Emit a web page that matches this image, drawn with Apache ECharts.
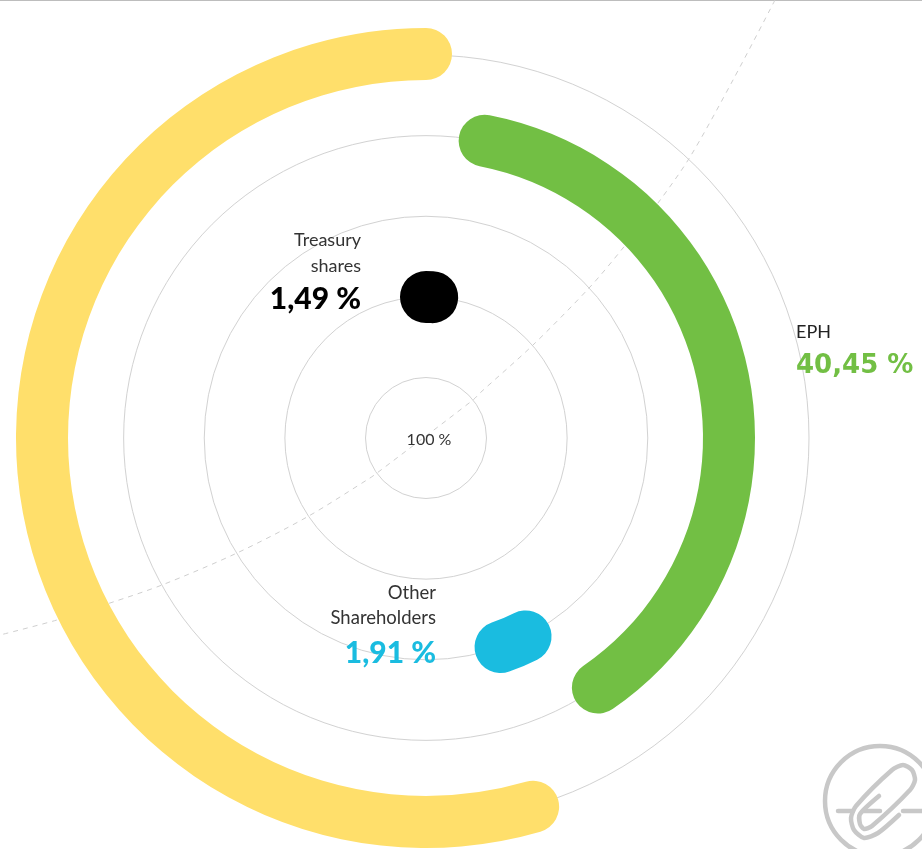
<!doctype html>
<html>
<head>
    <meta charset="utf-8">
    <title>Shareholder structure</title>
    <script src="https://cdn.jsdelivr.net/npm/echarts@6/dist/echarts.min.js"></script>
    <style>
        html, body { margin: 0; padding: 0; background: #fff; }
    </style>
</head>
<body>
    <div id="main" style="width:922px;height:849px;"></div>

    <script type="text/javascript">
        var mainChart = echarts.init(document.getElementById('main'));

        // rings from the inside out, the first one is only the "100 %" circle
        var rings = ['Total', 'Treasury shares', 'Other Shareholders', 'EPH', 'Rest'];
        // where each arc starts and how long it is drawn, in % of the full circle
        var arcStart = [null, 0, 42.6, 3.1, 45.5];
        var arcLength = [null, 0.7, 1.95, 37.3, 54.5];
        var ringColors = ['#000000', '#000000', '#1abce0', '#72bf44', '#ffdf6b'];

        // the dashed curve in page pixels
        var curveX = [775, 733, 690, 658, 623, 590, 533, 480, 473, 377, 370, 307, 237, 162, 110, 57, 0];
        var curveY = [0, 80, 157, 203, 248, 287, 345, 393, 400, 473, 478, 517, 553, 585, 603, 620, 635];

        var cx = 426, cy = 438;
        var textFont = 'Lato, "Open Sans", sans-serif';

        function label(text, x, y, align, size, color, weight, font) {
            return {
                type: 'text',
                z: 100,
                style: {
                    text: text, x: x, y: y,
                    textAlign: align, textVerticalAlign: 'middle',
                    fontFamily: font || textFont, fontSize: size,
                    fontWeight: weight || 400, fill: color
                }
            };
        }

        var logoStyle = { stroke: '#c8c8c8', fill: 'none', lineWidth: 4.5, lineCap: 'round' };

        var option = {
            animation: false,
            backgroundColor: '#fff',
            polar: [
                { center: [cx, cy], radius: [19.5, 424.5] },
                { center: [cx, cy], radius: [60.5, 383] }
            ],
            angleAxis: [
                { polarIndex: 0, type: 'value', min: 0, max: 100, startAngle: 90, show: false },
                { polarIndex: 1, type: 'value', min: 0, max: 100, startAngle: 90, show: false }
            ],
            radiusAxis: [
                { polarIndex: 0, type: 'category', data: rings, show: false },
                {
                    polarIndex: 1, type: 'value', min: 0, max: 4, interval: 1,
                    axisLine: { show: false }, axisTick: { show: false }, axisLabel: { show: false },
                    splitLine: { show: true, lineStyle: { color: '#d2d2d2', width: 1 } }
                }
            ],
            grid: { left: 0, right: 0, top: 0, bottom: 0 },
            xAxis: { type: 'value', min: 0, max: 922, show: false },
            yAxis: { type: 'value', min: 0, max: 849, inverse: true, show: false },
            series: [{
                type: 'line',
                xAxisIndex: 0,
                yAxisIndex: 0,
                z: 1,
                smooth: 0.3,
                symbol: 'none',
                silent: true,
                lineStyle: { color: '#cfcfcf', width: 1, type: [5, 5] },
                data: curveX.map(function (x, i) { return [x, curveY[i]]; })
            }, {
                name: 'offset',
                type: 'bar',
                coordinateSystem: 'polar',
                polarIndex: 0,
                stack: 'arcs',
                barWidth: 52,
                silent: true,
                itemStyle: { color: 'transparent' },
                data: arcStart
            }, {
                name: 'share',
                type: 'bar',
                coordinateSystem: 'polar',
                polarIndex: 0,
                stack: 'arcs',
                barWidth: 52,
                roundCap: true,
                z: 3,
                data: arcLength.map(function (v, i) {
                    return { value: v, itemStyle: { color: ringColors[i] } };
                })
            }],
            graphic: [
                { type: 'rect', shape: { x: 0, y: 0, width: 922, height: 1 }, style: { fill: '#bdbdbd' } },

                label('100 %', 429, 440, 'center', 16, '#333'),
                label('Treasury', 361, 240, 'right', 18, '#333'),
                label('shares', 361, 266, 'right', 18, '#333'),
                label('1,49 %', 361, 299, 'right', 30, '#000', 900),
                label('Other', 436, 593, 'right', 18.5, '#333'),
                label('Shareholders', 436, 618, 'right', 18.5, '#333'),
                label('1,91 %', 436, 653, 'right', 30, '#1abce0', 900),
                label('EPH', 796, 332, 'left', 18, '#222'),
                label('40,45 %', 796, 366, 'left', 26, '#72bf44', 700, '"DejaVu Sans"'),

                // paperclip stamp in the corner, cut off by the page edge
                { type: 'circle', shape: { cx: 880, cy: 801, r: 55 }, style: logoStyle },
                { type: 'polyline', shape: { points: [[838, 811], [853, 811]] }, style: logoStyle },
                { type: 'polyline', shape: { points: [[864, 811], [880, 811]] }, style: logoStyle },
                { type: 'polyline', shape: { points: [[903, 811], [922, 811]] }, style: logoStyle },
                {
                    type: 'polyline',
                    shape: {
                        smooth: 0.25,
                        points: [[899, 815], [878, 833], [864, 838], [854, 830], [851, 818], [856, 806],
                            [892, 770], [903, 765], [912, 770], [915, 780], [910, 790],
                            [872, 826], [864, 829], [860, 824], [860, 814], [879, 796]]
                    },
                    style: logoStyle
                }
            ]
        };

        mainChart.setOption(option);
    </script>
</body>
</html>
